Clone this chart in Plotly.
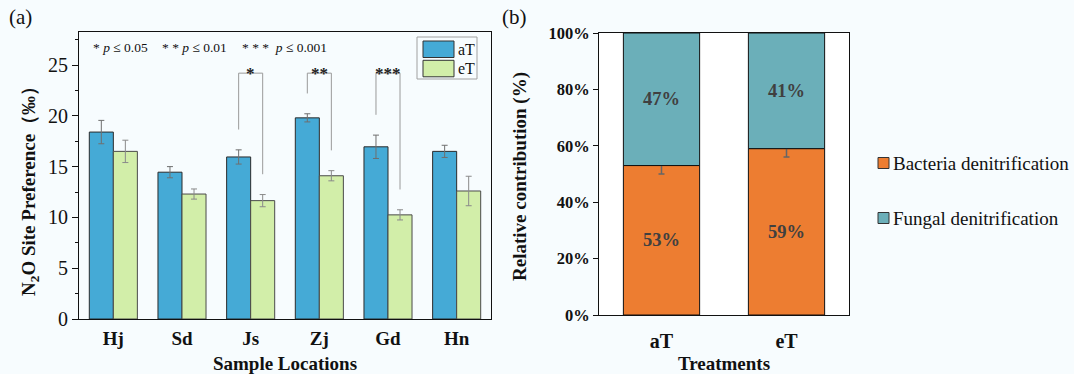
import plotly.graph_objects as go

# ---------------- data ----------------
locations = ["Hj", "Sd", "Js", "Zj", "Gd", "Hn"]
series_a = ["aT", "eT"]
aT_values = [18.4, 14.45, 15.95, 19.8, 16.95, 16.5]
aT_errors = [1.15, 0.55, 0.7, 0.4, 1.15, 0.6]
eT_values = [16.5, 12.3, 11.65, 14.1, 10.25, 12.6]
eT_errors = [1.1, 0.5, 0.6, 0.5, 0.5, 1.45]
sig_locations = ["Js", "Zj", "Gd"]
sig_marks = ["*", "**", "***"]
sig_bracket_top = 24.2
sig_gap = 2.0
p_key = ["* <i>p</i> ≤ 0.05", "* * <i>p</i> ≤ 0.01", "* * *  <i>p</i> ≤ 0.001"]

treatments = ["aT", "eT"]
series_b = ["Bacteria denitrification", "Fungal denitrification"]
bacteria = [53, 59]
bacteria_err = [3, 3]
fungal = [47, 41]
pct_ticks = [0, 20, 40, 60, 80, 100]

# ---------------- styling ----------------
W, H = 1074, 374
SERIF = "Liberation Serif"
BG = "#F7FCFE"
BLUE = "#45AAD6"
GREEN = "#D2EEA9"
ORANGE = "#ED7D31"
TEAL = "#6BAFB9"
INK = "#111111"


def px_x(p):
    return p / W


def px_y(p):
    return 1 - p / H


xa = list(range(len(locations)))
xb = list(range(len(treatments)))
half = 0.35 / 2

fig = go.Figure()

# panel (a)
fig.add_trace(go.Bar(
    x=xa, y=aT_values, name=series_a[0], xaxis="x", yaxis="y", showlegend=False,
    marker=dict(color=BLUE, line=dict(color="#2b2b2b", width=1)),
    error_y=dict(type="data", array=aT_errors, color="#6f6f6f", thickness=1, width=3),
))
fig.add_trace(go.Bar(
    x=xa, y=eT_values, name=series_a[1], xaxis="x", yaxis="y", showlegend=False,
    marker=dict(color=GREEN, line=dict(color="#4a4a4a", width=1)),
    error_y=dict(type="data", array=eT_errors, color="#8a8a8a", thickness=1, width=3),
))

# panel (b)
fig.add_trace(go.Bar(
    x=xb, y=bacteria, name=series_b[0], xaxis="x2", yaxis="y2", showlegend=False,
    offsetgroup="b", width=0.61, offset=-0.305,
    marker=dict(color=ORANGE, line=dict(color=INK, width=1)),
    text=[f"{v}%" for v in bacteria], textposition="inside", insidetextanchor="middle",
    textangle=0, constraintext="none",
    textfont=dict(family=SERIF, size=18.5, color="#404040", weight="bold"),
    error_y=dict(type="data", array=bacteria_err, color="#666666", thickness=1.5, width=3),
))
fig.add_trace(go.Bar(
    x=xb, y=fungal, base=bacteria, name=series_b[1], xaxis="x2", yaxis="y2", showlegend=False,
    offsetgroup="b", width=0.61, offset=-0.305,
    marker=dict(color=TEAL, line=dict(color=INK, width=1)),
    text=[f"{v}%" for v in fungal], textposition="inside", insidetextanchor="middle",
    textangle=0, constraintext="none",
    textfont=dict(family=SERIF, size=18.5, color="#404040", weight="bold"),
))

shapes = []
annotations = []
# white plot background for panel b
shapes.append(dict(type="rect", xref="x2 domain", yref="y2 domain", x0=0, x1=1, y0=0, y1=1,
                   fillcolor="white", line=dict(width=0), layer="below"))

# significance brackets computed from data
for loc, mark in zip(sig_locations, sig_marks):
    i = locations.index(loc)
    xl, xr = i - half, i + half
    yl = aT_values[i] + aT_errors[i] + sig_gap
    yr = eT_values[i] + eT_errors[i] + sig_gap
    shapes.append(dict(type="path", xref="x", yref="y",
                       path=f"M {xl},{yl} L {xl},{sig_bracket_top} L {xr},{sig_bracket_top} L {xr},{yr}",
                       line=dict(color="#9a9a9a", width=1)))
    annotations.append(dict(xref="x", yref="y", x=i, y=sig_bracket_top, text=mark,
                            showarrow=False, yanchor="middle", xanchor="center",
                            font=dict(family=SERIF, size=17, color="#222222", weight="bold")))

# p-value key
for txt, xl in zip(p_key, [91, 160, 240]):
    annotations.append(dict(xref="paper", yref="paper", x=px_x(xl), y=px_y(47), text=txt,
                            showarrow=False, xanchor="left", yanchor="middle",
                            font=dict(family=SERIF, size=13.5, color=INK)))

# legend of panel (a): framed box with large swatches
shapes.append(dict(type="rect", xref="paper", yref="paper", x0=px_x(417), x1=px_x(477),
                   y0=px_y(79), y1=px_y(37), line=dict(color="#a0a0a0", width=1), fillcolor="rgba(0,0,0,0)"))
for k, (name, col) in enumerate(zip(series_a, [BLUE, GREEN])):
    top = 41 + k * 19.3
    shapes.append(dict(type="rect", xref="paper", yref="paper", x0=px_x(423), x1=px_x(454),
                       y0=px_y(top + 16.5), y1=px_y(top), fillcolor=col,
                       line=dict(color="#333333", width=1)))
    annotations.append(dict(xref="paper", yref="paper", x=px_x(456), y=px_y(top + 8.5), text=name,
                            showarrow=False, xanchor="left", yanchor="middle",
                            font=dict(family=SERIF, size=16, color=INK)))

# legend of panel (b)
for k, (name, col) in enumerate(zip(series_b, [ORANGE, TEAL])):
    cy = 163 + k * 55
    shapes.append(dict(type="rect", xref="paper", yref="paper", x0=px_x(878), x1=px_x(889),
                       y0=px_y(cy + 5.5), y1=px_y(cy - 5.5), fillcolor=col,
                       line=dict(color="#333333", width=1)))
    annotations.append(dict(xref="paper", yref="paper", x=px_x(891), y=px_y(cy), text=name,
                            showarrow=False, xanchor="left", yanchor="middle",
                            font=dict(family=SERIF, size=19, color=INK)))

# panel labels
annotations.append(dict(xref="paper", yref="paper", x=px_x(7), y=px_y(17), text="(a)", showarrow=False,
                        xanchor="left", yanchor="middle", font=dict(family=SERIF, size=21, color=INK)))
annotations.append(dict(xref="paper", yref="paper", x=px_x(500), y=px_y(17), text="(b)", showarrow=False,
                        xanchor="left", yanchor="middle", font=dict(family=SERIF, size=21, color=INK)))

# y-axis titles
annotations.append(dict(xref="paper", yref="paper", x=px_x(30), y=px_y(187),
                        text="N<sub>2</sub>O Site Preference（‰）", textangle=-90, showarrow=False,
                        xanchor="center", yanchor="middle",
                        font=dict(family=SERIF, size=19, color=INK, weight="bold")))
annotations.append(dict(xref="paper", yref="paper", x=px_x(520), y=px_y(177),
                        text="Relative contribution (%)", textangle=-90, showarrow=False,
                        xanchor="center", yanchor="middle",
                        font=dict(family=SERIF, size=19, color=INK, weight="bold")))

axis_common = dict(showline=True, linecolor=INK, linewidth=1, mirror=True, showgrid=False,
                   zeroline=False, automargin=False)

fig.update_layout(
    template="none",
    width=W, height=H, margin=dict(l=0, r=0, t=0, b=0, pad=0),
    paper_bgcolor=BG, plot_bgcolor=BG,
    barmode="group", bargap=0.3, bargroupgap=0,
    font=dict(family=SERIF, color=INK),
    showlegend=False,
    xaxis=dict(domain=[px_x(79), px_x(491)], anchor="y", range=[-0.5, len(locations) - 0.5],
               tickvals=xa, ticktext=locations, ticks="outside", ticklen=2, tickcolor="rgba(0,0,0,0)",
               tickfont=dict(family=SERIF, size=19, weight="bold"),
               title=dict(text="Sample Locations", font=dict(family=SERIF, size=19, weight="bold"),
                          standoff=10),
               **axis_common),
    yaxis=dict(domain=[px_y(319), px_y(32)], anchor="x", range=[0, 28.25],
               tickvals=[0, 5, 10, 15, 20, 25], ticks="outside", ticklen=6, tickcolor=INK,
               minor=dict(dtick=2.5, ticks="outside", ticklen=3, tickcolor=INK),
               tickfont=dict(family=SERIF, size=20),
               **axis_common),
    xaxis2=dict(domain=[px_x(599), px_x(849)], anchor="y2", range=[-0.5, len(treatments) - 0.5],
                tickvals=xb, ticktext=treatments, ticks="outside", ticklen=8, tickcolor="rgba(0,0,0,0)",
                tickfont=dict(family=SERIF, size=20, weight="bold"),
                title=dict(text="Treatments", font=dict(family=SERIF, size=19, weight="bold"), standoff=6),
                **axis_common),
    yaxis2=dict(domain=[px_y(315), px_y(33)], anchor="x2", range=[0, 100],
                tickvals=pct_ticks, ticktext=[f"{t}%" for t in pct_ticks],
                ticks="outside", ticklen=5, tickcolor=INK,
                tickfont=dict(family=SERIF, size=16.5, weight="bold"),
                **axis_common),
    shapes=shapes, annotations=annotations,
)

fig.write_html("out.html")
